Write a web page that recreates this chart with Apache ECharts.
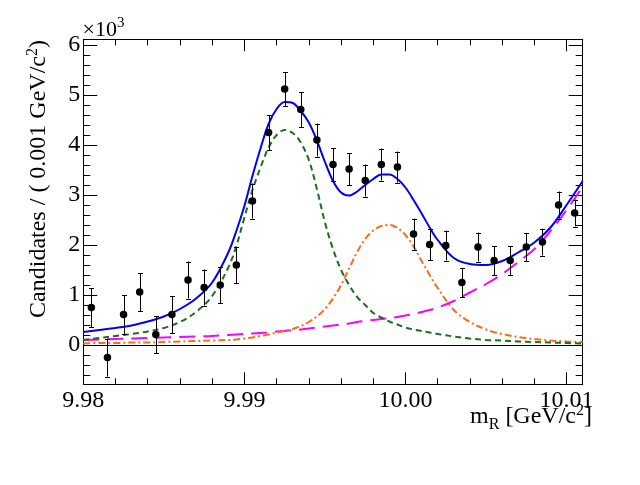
<!DOCTYPE html>
<html><head><meta charset="utf-8">
<script src="https://cdn.jsdelivr.net/npm/echarts@6/dist/echarts.min.js"></script>
<style>html,body{margin:0;padding:0;background:#fff}#c{width:640px;height:485px}</style>
</head><body><div id="c"></div>
<script>
// ---- data (y values in units of 10^3 candidates) ----
const binCenters = [9.9805, 9.9815, 9.9825, 9.9835, 9.9845, 9.9855, 9.9865, 9.9875, 9.9885, 9.9895,
  9.9905, 9.9915, 9.9925, 9.9935, 9.9945, 9.9955, 9.9965, 9.9975, 9.9985, 9.9995,
  10.0005, 10.0015, 10.0025, 10.0035, 10.0045, 10.0055, 10.0065, 10.0075, 10.0085, 10.0095, 10.0105];
const counts = [0.75, -0.25, 0.61, 1.06, 0.21, 0.61, 1.30, 1.15, 1.20, 1.60,
  2.88, 4.25, 5.12, 4.71, 4.10, 3.61, 3.52, 3.29, 3.61, 3.56,
  2.22, 2.01, 1.99, 1.25, 1.96, 1.69, 1.69, 1.96, 2.06, 2.80, 2.64];
const errors = [0.39, 0.38, 0.39, 0.38, 0.37, 0.37, 0.37, 0.36, 0.36, 0.36,
  0.35, 0.35, 0.34, 0.35, 0.33, 0.33, 0.32, 0.32, 0.32, 0.31,
  0.31, 0.31, 0.30, 0.29, 0.29, 0.29, 0.29, 0.28, 0.27, 0.27, 0.27];

const curveX = [9.980, 9.981, 9.982, 9.983, 9.984, 9.985, 9.986, 9.987, 9.988, 9.989,
  9.9895, 9.990, 9.9905, 9.991, 9.9915, 9.992, 9.9925, 9.993, 9.9935, 9.994,
  9.9945, 9.995, 9.9955, 9.996, 9.9965, 9.997, 9.9975, 9.998, 9.9985, 9.999,
  9.9995, 10.000, 10.0005, 10.001, 10.0015, 10.002, 10.003, 10.004, 10.005, 10.006,
  10.007, 10.008, 10.009, 10.010, 10.011];
const totalFit = [0.26, 0.30, 0.34, 0.39, 0.47, 0.57, 0.72, 0.93, 1.25, 1.85,
  2.28, 2.78, 3.38, 3.93, 4.42, 4.72, 4.86, 4.84, 4.68, 4.45,
  4.09, 3.66, 3.28, 3.05, 2.99, 3.07, 3.20, 3.32, 3.41, 3.41,
  3.32, 3.15, 2.90, 2.63, 2.35, 2.10, 1.74, 1.62, 1.60, 1.68,
  1.85, 2.05, 2.35, 2.80, 3.28];
const signal1 = [0.10, 0.14, 0.18, 0.22, 0.27, 0.34, 0.46, 0.66, 0.98, 1.55,
  1.98, 2.55, 3.10, 3.55, 3.95, 4.20, 4.30, 4.24, 4.05, 3.70,
  3.12, 2.45, 1.92, 1.50, 1.20, 0.96, 0.80, 0.64, 0.55, 0.47,
  0.41, 0.35, 0.31, 0.28, 0.25, 0.22, 0.17, 0.13, 0.10, 0.09,
  0.07, 0.06, 0.05, 0.04, 0.03];
const signal2 = [0.03, 0.04, 0.04, 0.05, 0.05, 0.06, 0.07, 0.08, 0.09, 0.10,
  0.11, 0.13, 0.15, 0.18, 0.21, 0.25, 0.28, 0.32, 0.38, 0.46,
  0.57, 0.72, 0.93, 1.20, 1.53, 1.86, 2.12, 2.29, 2.38, 2.40,
  2.34, 2.20, 1.97, 1.68, 1.40, 1.14, 0.70, 0.46, 0.31, 0.22,
  0.16, 0.12, 0.09, 0.07, 0.06];
const background = [0.10, 0.11, 0.12, 0.13, 0.14, 0.15, 0.16, 0.17, 0.18, 0.20,
  0.21, 0.22, 0.23, 0.24, 0.25, 0.27, 0.28, 0.30, 0.31, 0.33,
  0.35, 0.37, 0.39, 0.41, 0.43, 0.46, 0.48, 0.50, 0.52, 0.54,
  0.56, 0.59, 0.62, 0.66, 0.70, 0.75, 0.88, 1.05, 1.22, 1.42,
  1.66, 1.92, 2.28, 2.70, 3.17];

const X_MIN = 9.98, X_MAX = 10.011;
const Y_MIN = -0.786, Y_MAX = 6.114;
const X_MAJOR = 0.01, X_MINOR = 0.002, Y_MAJOR = 1, Y_MINOR = 0.2;
const FONT = 'Liberation Serif';

// ---- helpers ----
function pair(xs, ys) { return xs.map((x, i) => [x, ys[i]]); }

function xAx(pos, step, len, line, labels) {
  return {
    type: 'value', position: pos, min: X_MIN, max: X_MAX,
    minInterval: step, maxInterval: step, splitNumber: Math.round((X_MAX - X_MIN) / step),
    axisLine: { show: line, onZero: false, lineStyle: { color: '#000', width: 1 } },
    axisTick: { show: true, inside: true, length: len, lineStyle: { color: '#000', width: 1 } },
    minorTick: { show: false }, splitLine: { show: false },
    axisLabel: labels ? {
      show: true, margin: 4, color: '#000', fontFamily: FONT, fontSize: 24,
      showMinLabel: true, showMaxLabel: false,
      formatter: v => (Math.abs(v / step - Math.round(v / step)) < 1e-6) ? v.toFixed(2) : ''
    } : { show: false }
  };
}
function yAx(pos, step, len, line, labels) {
  return {
    type: 'value', position: pos, min: Y_MIN, max: Y_MAX,
    minInterval: step, maxInterval: step, splitNumber: Math.round((Y_MAX - Y_MIN) / step),
    axisLine: { show: line, onZero: false, lineStyle: { color: '#000', width: 1 } },
    axisTick: { show: true, inside: true, length: len, lineStyle: { color: '#000', width: 1 } },
    minorTick: { show: false }, splitLine: { show: false },
    axisLabel: labels ? {
      show: true, margin: 3, color: '#000', fontFamily: FONT, fontSize: 24,
      showMinLabel: false, showMaxLabel: false,
      formatter: v => (Math.abs(v - Math.round(v)) < 1e-6) ? String(Math.round(v)) : ''
    } : { show: false }
  };
}

const measCtx = document.createElement('canvas').getContext('2d');
function seqText(segs, x, y, align, rotation) {
  const widths = segs.map(s => { measCtx.font = s.size + 'px "' + FONT + '"'; return measCtx.measureText(s.text).width; });
  const W = widths.reduce((a, b) => a + b, 0);
  let cx = align === 'right' ? -W : 0;
  const children = segs.map((s, i) => {
    const el = { type: 'text', x: cx, y: (s.dy || 0) - 0.3375 * s.size,
      style: { text: s.text, font: s.size + 'px "' + FONT + '"', fill: '#000', align: 'left', verticalAlign: 'middle' } };
    cx += widths[i];
    return el;
  });
  return { type: 'group', x: x, y: y, rotation: rotation || 0, children: children, silent: true };
}

function curve(name, ys, color, type, z) {
  return {
    name: name, type: 'line', xAxisIndex: 0, yAxisIndex: 0, data: pair(curveX, ys),
    showSymbol: false, symbol: 'none', smooth: 0.35, z: z, silent: true,
    lineStyle: { color: color, width: 2, type: type }
  };
}

const chart = echarts.init(document.getElementById('c'), null, { renderer: 'canvas' });
const option = {
  animation: false,
  backgroundColor: '#fff',
  grid: { left: 83.3, right: 57.3, top: 39.3, bottom: 100.7, containLabel: false },
  xAxis: [
    xAx('bottom', X_MAJOR, 12, true, true),
    xAx('bottom', X_MINOR, 6, false, false),
    xAx('top', X_MAJOR, 12, true, false),
    xAx('top', X_MINOR, 6, false, false)
  ],
  yAxis: [
    yAx('left', Y_MAJOR, 14, true, true),
    yAx('left', Y_MINOR, 7, false, false),
    yAx('right', Y_MAJOR, 14, true, false),
    yAx('right', Y_MINOR, 7, false, false)
  ],
  series: [
    curve('background', background, '#ff00ff', [16, 8], 2),
    curve('signal2', signal2, '#ff6a14', [7, 3, 2, 3], 3),
    curve('signal1', signal1, '#1b6e1b', [6, 4], 4),
    Object.assign(curve('total', totalFit, '#0000ff', 'solid', 5), {
      markLine: { silent: true, symbol: ['none', 'none'], label: { show: false },
        lineStyle: { color: '#000', width: 1, type: 'solid' }, data: [{ yAxis: 0 }] }
    }),
    {
      type: 'custom', xAxisIndex: 0, yAxisIndex: 0, z: 6, silent: true,
      data: binCenters.map((x, i) => [x, counts[i], errors[i]]),
      encode: { x: 0, y: 1 },
      renderItem: function (params, api) {
        const x = api.value(0), y = api.value(1), e = api.value(2);
        const t = api.coord([x, y + e]), b = api.coord([x, y - e]);
        const cw = 2.5, px = Math.round(t[0]) + 0.5;
        const st = { stroke: '#000', lineWidth: 1 };
        return { type: 'group', children: [
          { type: 'line', shape: { x1: px, y1: t[1], x2: px, y2: b[1] }, style: st },
          { type: 'line', shape: { x1: px - cw, y1: Math.round(t[1]) + 0.5, x2: px + cw, y2: Math.round(t[1]) + 0.5 }, style: st },
          { type: 'line', shape: { x1: px - cw, y1: Math.round(b[1]) + 0.5, x2: px + cw, y2: Math.round(b[1]) + 0.5 }, style: st }
        ] };
      }
    },
    {
      type: 'scatter', xAxisIndex: 0, yAxisIndex: 0, z: 7, silent: true,
      data: pair(binCenters, counts), symbol: 'circle', symbolSize: 7.5,
      itemStyle: { color: '#000', opacity: 1 }
    }
  ],
  graphic: [
    seqText([{ text: '×10', size: 22, dy: 0 }, { text: '3', size: 15, dy: -9 }], 82.5, 37.5, 'left', 0),
    seqText([{ text: 'm', size: 24, dy: 0 }, { text: 'R', size: 16, dy: 5 }, { text: ' [GeV/c', size: 24, dy: 0 },
      { text: '2', size: 16, dy: -9 }, { text: ']', size: 24, dy: 0 }], 592, 425, 'right', 0),
    seqText([{ text: 'Candidates / ( 0.001 GeV/c', size: 24, dy: 0 }, { text: '2', size: 16, dy: -9 },
      { text: ')', size: 24, dy: 0 }], 47, 40, 'right', Math.PI / 2)
  ]
};
chart.setOption(option);
</script>
</body></html>
